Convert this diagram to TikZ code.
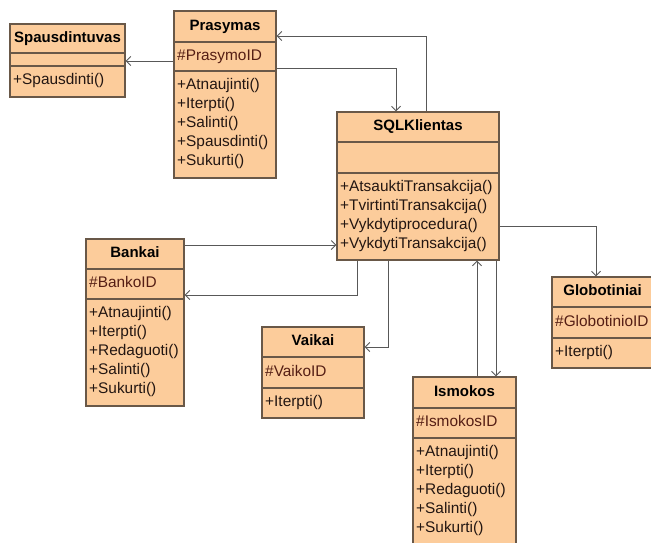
\documentclass[tikz,border=0pt]{standalone}
\usepackage{fontspec}
\setmainfont{Liberation Sans}
\usetikzlibrary{arrows.meta,fit}
\definecolor{fillc}{RGB}{252,204,155}
\definecolor{boxc}{RGB}{105,88,72}
\definecolor{linec}{RGB}{88,88,88}
\definecolor{attrc}{RGB}{85,30,20}
\definecolor{methc}{RGB}{35,22,18}
\tikzset{
  cls/.style={draw=boxc, fill=fillc, line width=1.1pt, inner sep=0pt},
  sepline/.style={draw=boxc, line width=1.1pt},
  ttl/.style={font=\fontsize{15}{18}\selectfont\bfseries, anchor=base, inner sep=0pt, text=black},
  attr/.style={font=\fontsize{15.4}{18}\selectfont, anchor=base west, inner sep=0pt, text=attrc},
  meth/.style={font=\fontsize{15.4}{18}\selectfont, anchor=base west, inner sep=0pt, text=methc},
  conn/.style={draw=linec, line width=1pt, -{Straight Barb[length=4.5pt,width=9pt]}}
}
% #1 name, #2 x1, #3 y1, #4 x2, #5 title bottom, #6 attr bottom, #7 y2, #8 title
\newcommand{\umlklass}[8]{%
  \node[cls, fit={(#2,#3) (#4,#7)}] (#1) {};
  \draw[sepline] (#2,#5) -- (#4,#5);
  \draw[sepline] (#2,#6) -- (#4,#6);
  \node[ttl] (#1-t) at ({(#2+#4)/2},{(#3+#5)/2+3.5}) {#8};
  \coordinate (#1-a) at ({#2+3},{(#5+#6)/2+3.5});
  \coordinate (#1-m) at ({#2+3},{#6+18.5});
}
\newcommand{\umlmeths}[2]{%
  \foreach \m [count=\i from 0] in {#2}{
    \node[meth] (#1-m\i) at ([yshift={-\i*19pt}]#1-m) {\m};
  }
}
\begin{document}
\begin{tikzpicture}[x=1pt,y=-1pt]
\useasboundingbox[fill=white] (0,0) rectangle (651,542);
\clip (0,0) rectangle (651,542);

% Spausdintuvas
\umlklass{sp}{10}{24}{125}{53}{66}{97}{Spausdintuvas}
\umlmeths{sp}{+Spausdinti()}

% Prasymas
\umlklass{pr}{174}{11}{276}{42}{71}{178}{Prasymas}
\node[attr] (pr-at) at (pr-a) {\#PrasymoID};
\umlmeths{pr}{+Atnaujinti(),+Iterpti(),+Salinti(),+Spausdinti(),+Sukurti()}

% SQLKlientas
\umlklass{sql}{337}{112}{499}{142}{173}{260}{SQLKlientas}
\umlmeths{sql}{+AtsauktiTransakcija(),+TvirtintiTransakcija(),+Vykdytiprocedura(),+VykdytiTransakcija()}

% Bankai
\umlklass{ba}{86}{239}{184}{269}{299}{406}{Bankai}
\node[attr] (ba-at) at (ba-a) {\#BankoID};
\umlmeths{ba}{+Atnaujinti(),+Iterpti(),+Redaguoti(),+Salinti(),+Sukurti()}

% Vaikai
\umlklass{va}{262}{327}{364}{357}{388}{418}{Vaikai}
\node[attr] (va-at) at (va-a) {\#VaikoID};
\umlmeths{va}{+Iterpti()}

% Globotiniai
\umlklass{gl}{552}{277}{653}{307}{338}{368}{Globotiniai}
\node[attr] (gl-at) at (gl-a) {\#GlobotinioID};
\umlmeths{gl}{+Iterpti()}

% Ismokos
\umlklass{is}{413}{377}{516}{408}{438}{550}{Ismokos}
\node[attr] (is-at) at (is-a) {\#IsmokosID};
\umlmeths{is}{+Atnaujinti(),+Iterpti(),+Redaguoti(),+Salinti(),+Sukurti()}

% connectors
\draw[conn] (pr.west |- 0,61) -- (sp.east |- 0,61);
\draw[conn] (sql.north -| 426,0) -- (426,36) -- (pr.east |- 0,36);
\draw[conn] (pr.east |- 0,68) -- (396,68) -- (sql.north -| 396,0);
\draw[conn] (ba.east |- 0,245) -- (sql.west |- 0,245);
\draw[conn] (sql.south -| 357,0) -- (357,295) -- (ba.east |- 0,295);
\draw[conn] (sql.south -| 388,0) -- (388,347) -- (va.east |- 0,347);
\draw[conn] (sql.east |- 0,226) -- (596,226) -- (gl.north -| 596,0);
\draw[conn] (is.north -| 477,0) -- (sql.south -| 477,0);
\draw[conn] (sql.south -| 496,0) -- (is.north -| 496,0);
\end{tikzpicture}
\end{document}
